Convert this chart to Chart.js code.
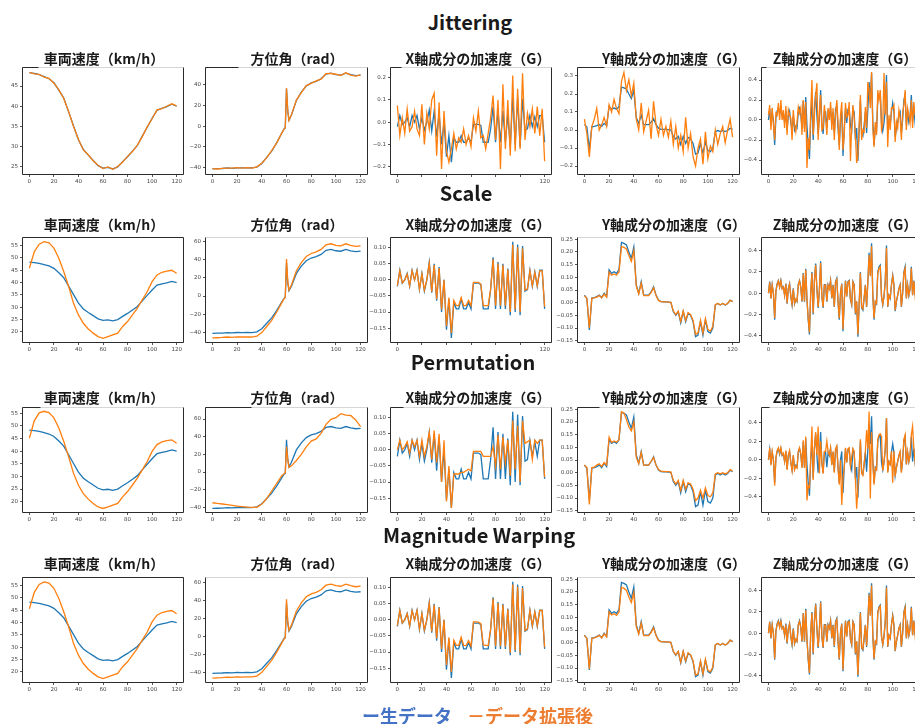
<!DOCTYPE html>
<html><head><meta charset="utf-8">
<script src="https://cdn.jsdelivr.net/npm/chart.js@4.4.0/dist/chart.umd.min.js"></script>
<style>
html,body{margin:0;padding:0;background:#fff;overflow:hidden;width:915px;height:724px;}
#stage{position:relative;width:915px;height:724px;overflow:hidden;background:#fff;}
.rowtitle{position:absolute;font-family:"Noto Sans CJK JP","Noto Sans",sans-serif;font-weight:700;font-size:20px;line-height:1;color:#1a1a1a;transform:translate(-50%,-50%);white-space:nowrap;}
.ptitle{position:absolute;font-family:"Noto Sans CJK JP",sans-serif;font-weight:700;font-size:14px;line-height:1;color:#1a1a1a;transform:translate(-50%,-50%);white-space:nowrap;}
.leg{position:absolute;font-family:"Noto Sans CJK JP",sans-serif;font-weight:700;font-size:18px;line-height:1;white-space:nowrap;transform:translateY(-50%);}
canvas{position:absolute;}
</style></head>
<body><div id="stage"></div>
<script>
// ---------- categories / labels ----------
const AUG_NAMES = ['Jittering','Scale','Permutation','Magnitude Warping'];
const PANEL_TITLES = ['車両速度（km/h）','方位角（rad）','X軸成分の加速度（G）','Y軸成分の加速度（G）','Z軸成分の加速度（G）'];
const LEGEND_LABELS = ['ー生データ','－データ拡張後'];
const X_TICKS = [0,20,40,60,80,100,120];

// ---------- vehicle speed (x = 0..120 step 4) ----------
const speedRaw    = [48.3,48.1,47.8,47.3,46.8,45.8,44.0,42.0,38.6,35.1,31.7,29.3,27.9,26.6,25.3,24.7,24.9,24.5,25.0,26.3,27.5,28.9,30.3,32.6,34.8,37.0,39.0,39.5,39.9,40.5,40.0];
const speedJitter = [48.4,48.0,47.9,47.2,46.9,45.7,44.1,41.9,38.7,35.0,31.8,29.2,28.0,26.5,25.4,24.6,25.0,24.4,25.1,26.2,27.6,28.8,30.4,32.5,34.9,36.9,39.1,39.4,40.0,40.6,40.1];
const speedScale  = [45.8,52.5,55.6,56.6,56.1,54.0,49.9,44.5,38.4,31.6,26.9,23.5,21.2,19.5,18.1,17.4,18.1,18.8,19.5,22.2,24.2,26.9,29.6,33.0,36.3,40.4,43.1,44.2,44.7,45.0,43.8];
const speedPerm   = [45.1,52.0,55.2,55.8,55.3,53.2,49.2,43.9,37.8,31.2,26.5,23.2,21.0,19.3,17.9,17.3,17.9,18.6,19.3,21.9,24.0,26.6,29.3,32.6,35.9,39.9,42.6,43.7,44.2,44.5,43.1];
const speedWarp   = [45.6,52.3,55.5,56.5,56.0,53.9,49.8,44.4,38.3,31.5,26.8,23.4,21.1,19.4,18.0,17.3,18.0,18.7,19.4,22.1,24.1,26.8,29.5,32.9,36.2,40.3,43.0,44.1,44.6,44.9,43.6];

// ---------- azimuth (irregular x) ----------
const azX      = [0,4,8,12,16,20,24,28,32,36,40,44,48,52,56,58,59,60,61,62,64,68,72,76,80,84,88,92,96,100,104,108,112,116,120];
const azRaw    = [-41.2,-41,-40.8,-40.3,-40.6,-40.2,-40.3,-40.2,-40.3,-39.5,-36,-30,-24,-16,-7,-2.5,-1.5,36.5,15,6,11,25,33,39,42,43.5,46,50.5,51.5,50,49.5,51.5,50,49,49.5];
const azJitter = [-41.0,-41.3,-40.6,-40.5,-40.4,-40.0,-40.5,-40.0,-40.4,-39.2,-35.7,-30.3,-23.6,-16.2,-6.8,-2.8,-1.2,36.8,15.3,5.7,11.3,25.4,32.6,39.4,41.6,43.9,45.6,50.9,51.1,50.4,49.2,51.8,49.6,48.6,49.8];
const azScale  = [-46.2,-46,-45.7,-45.2,-45.5,-45,-45.2,-45,-45.2,-44.3,-40.3,-33.6,-26.9,-17.9,-7.8,-2.8,-1.7,41,16.8,6.7,12.3,28,37,43.7,47,48.7,51.5,56.6,57.7,56,55.4,57.7,56,54.9,55.4];
const azPerm   = [-34.8,-35.6,-36.2,-37,-37.8,-38.5,-39.2,-39.8,-40,-40,-36.3,-30,-21.5,-13,-4.5,-2,-1,28.6,14,5.3,7,13,20,28.5,35,37.5,43.8,54,59.6,61.5,66,64.5,64,58.9,51.3];
const azWarp   = [-46.5,-46.2,-45.9,-45.4,-45.6,-45.1,-45.3,-45.1,-45.2,-44.2,-40.1,-33.4,-26.8,-17.8,-7.8,-2.8,-1.7,41.2,16.9,6.7,12.4,28.2,37.2,43.9,47.2,48.9,51.7,56.8,58,56.2,55.6,57.9,56.2,55.1,55.8];

// ---------- X-axis acceleration (x = 0..120 step 2) ----------
const accXRaw = [
 -0.02,0.03,-0.01,0.0,0.02,-0.02,0.03,0.0,0.03,-0.03,
 0.02,-0.035,0.0,0.055,-0.04,0.05,-0.065,0.04,-0.1,0.0,
 -0.155,-0.06,-0.18,-0.07,-0.09,-0.09,-0.06,-0.09,-0.09,-0.07,
 -0.09,-0.01,-0.01,-0.01,-0.015,-0.09,-0.09,-0.09,-0.03,0.07,
 -0.09,0.055,-0.09,0.05,-0.09,0.035,-0.11,0.118,-0.1,0.11,
 -0.11,0.105,-0.035,-0.03,0.03,-0.02,0.025,-0.02,0.03,0.03,
 -0.09];
const accXJitter = [
 0.075,-0.06,0.02,-0.05,0.06,-0.04,-0.02,0.05,-0.03,-0.06,
 0.08,-0.1,0.04,-0.03,0.1,0.13,-0.15,0.09,-0.21,0.05,
 -0.13,-0.18,-0.12,-0.05,-0.12,-0.07,-0.09,-0.03,-0.1,-0.06,
 -0.11,0.02,-0.04,0.05,-0.07,-0.06,-0.12,-0.05,0.02,0.12,
 -0.08,0.1,-0.21,0.17,-0.12,0.1,-0.15,0.21,-0.13,0.15,
 -0.12,0.22,-0.08,0.04,-0.02,0.06,-0.05,0.07,-0.06,0.06,
 -0.175];
const accXScale = [
 -0.018,0.028,-0.009,0.0,0.018,-0.018,0.028,0.0,0.028,-0.028,
 0.018,-0.032,0.0,0.051,-0.037,0.046,-0.06,0.037,-0.092,0.0,
 -0.143,-0.055,-0.165,-0.064,-0.08,-0.08,-0.055,-0.08,-0.08,-0.064,
 -0.08,-0.008,-0.008,-0.008,-0.013,-0.08,-0.08,-0.08,-0.028,0.064,
 -0.08,0.051,-0.08,0.046,-0.08,0.032,-0.1,0.109,-0.092,0.101,
 -0.1,0.097,-0.032,-0.028,0.028,-0.018,0.023,-0.018,0.028,0.028,
 -0.083];
const accXPerm = [
 0.0,0.03,0.0,0.01,0.025,-0.01,0.03,0.01,0.03,-0.02,
 0.03,-0.02,0.01,0.055,-0.03,0.06,-0.04,0.05,-0.1,0.03,
 -0.16,-0.05,-0.18,-0.075,-0.075,-0.075,-0.07,-0.07,-0.065,-0.06,
 -0.065,-0.005,-0.005,-0.005,-0.005,-0.02,-0.02,-0.02,-0.02,0.01,
 -0.05,0.045,-0.06,0.04,-0.04,0.03,-0.08,0.09,-0.06,0.075,
 -0.1,0.09,0.02,0.025,0.03,-0.03,0.03,0.02,0.03,0.03,
 -0.085];
const accXWarp = [
 -0.017,0.029,-0.009,0.0,0.019,-0.018,0.028,0.0,0.029,-0.027,
 0.019,-0.031,0.0,0.052,-0.036,0.047,-0.058,0.038,-0.09,0.0,
 -0.14,-0.054,-0.162,-0.063,-0.079,-0.079,-0.054,-0.079,-0.08,-0.064,
 -0.081,-0.006,-0.006,-0.007,-0.012,-0.078,-0.079,-0.08,-0.028,0.066,
 -0.082,0.052,-0.082,0.047,-0.083,0.033,-0.102,0.11,-0.094,0.103,
 -0.103,0.099,-0.033,-0.028,0.029,-0.018,0.024,-0.018,0.029,0.029,
 -0.085];

// ---------- Y-axis acceleration (x = 0..120 step 2) ----------
const accYRaw = [
 0.03,0.017,-0.108,0.018,0.02,0.024,0.03,0.02,0.037,0.024,
 0.13,0.116,0.122,0.116,0.13,0.238,0.234,0.228,0.2,0.175,
 0.22,0.07,0.037,0.083,0.03,0.03,0.03,0.043,0.063,0.03,
 0.01,0.004,0.003,0.003,0.002,0.001,-0.035,-0.05,-0.035,-0.08,
 -0.035,-0.075,-0.042,-0.05,-0.075,-0.134,-0.128,-0.075,-0.128,-0.068,
 -0.114,-0.12,-0.1,-0.009,-0.003,-0.009,-0.003,-0.009,-0.003,0.01,
 0.004];
const accYJitter = [
 0.06,-0.02,-0.15,0.02,0.06,0.12,0.0,0.03,0.07,0.02,
 0.14,0.1,0.17,0.12,0.09,0.27,0.32,0.22,0.28,0.19,
 0.26,0.06,0.0,0.15,-0.01,0.05,0.11,-0.05,0.16,0.03,
 -0.03,0.06,-0.03,0.02,-0.04,0.05,-0.08,0.02,-0.1,-0.03,
 -0.12,0.07,-0.1,-0.02,-0.15,-0.2,-0.1,-0.05,-0.19,-0.01,
 -0.16,-0.09,-0.12,0.0,-0.08,-0.02,0.02,-0.07,0.0,0.06,
 -0.04];
const accYScale = [
 0.028,0.016,-0.1,0.017,0.019,0.022,0.028,0.019,0.034,0.022,
 0.121,0.108,0.113,0.108,0.121,0.221,0.218,0.212,0.186,0.163,
 0.205,0.065,0.034,0.077,0.028,0.028,0.028,0.04,0.059,0.028,
 0.009,0.004,0.003,0.003,0.002,0.001,-0.033,-0.047,-0.033,-0.074,
 -0.033,-0.07,-0.039,-0.047,-0.07,-0.125,-0.119,-0.07,-0.119,-0.063,
 -0.106,-0.112,-0.093,-0.008,-0.003,-0.008,-0.003,-0.008,-0.003,0.009,
 0.004];
const accYPerm = [
 0.03,0.02,-0.125,0.02,0.022,0.03,0.035,0.025,0.04,0.03,
 0.14,0.12,0.125,0.12,0.13,0.24,0.235,0.21,0.18,0.165,
 0.2,0.06,0.035,0.08,0.03,0.03,0.03,0.045,0.06,0.03,
 0.012,0.006,0.005,0.004,0.004,0.002,-0.03,-0.045,-0.03,-0.07,
 -0.03,-0.065,-0.04,-0.045,-0.065,-0.11,-0.1,-0.07,-0.1,-0.06,
 -0.09,-0.095,-0.08,-0.005,0.0,-0.005,0.0,-0.005,0.0,0.012,
 0.006];
const accYWarp = [
 0.029,0.016,-0.104,0.017,0.019,0.023,0.029,0.019,0.035,0.023,
 0.122,0.109,0.114,0.108,0.12,0.219,0.214,0.207,0.18,0.158,
 0.198,0.063,0.034,0.077,0.028,0.028,0.028,0.04,0.059,0.028,
 0.009,0.004,0.003,0.003,0.002,0.001,-0.034,-0.048,-0.034,-0.077,
 -0.034,-0.072,-0.04,-0.048,-0.072,-0.128,-0.123,-0.072,-0.123,-0.065,
 -0.109,-0.115,-0.096,-0.009,-0.003,-0.009,-0.003,-0.009,-0.003,0.01,
 0.004];

// ---------- Z-axis acceleration (x = 0..120 step 1) ----------
const accZRaw = [
 0.0,0.11,-0.05,0.08,0.0,-0.25,0.02,0.09,0.12,0.06,
 0.12,0.045,0.06,-0.02,0.09,-0.1,0.045,0.09,-0.03,-0.11,
 0.045,-0.1,-0.06,-0.08,0.08,0.12,0.06,-0.08,0.19,-0.08,
 0.23,-0.06,-0.25,-0.39,0.0,0.2,-0.2,0.12,0.28,0.045,
 -0.14,0.03,0.3,-0.03,-0.14,0.08,0.08,-0.08,0.08,0.045,
 0.12,-0.05,0.08,-0.13,0.11,0.14,-0.08,-0.25,0.0,0.09,
 -0.36,-0.08,0.12,-0.03,0.11,0.12,-0.06,-0.11,0.11,0.08,
 -0.2,-0.08,-0.41,-0.11,0.2,-0.14,-0.16,-0.05,0.08,-0.13,
 0.11,0.38,0.17,0.47,-0.02,-0.25,-0.08,-0.1,0.2,0.25,
 0.265,-0.03,-0.11,-0.03,0.11,0.45,-0.13,-0.02,-0.05,0.08,
 0.17,0.08,-0.17,-0.08,-0.02,0.045,0.08,-0.13,0.0,0.2,
 0.25,-0.05,0.08,-0.02,0.045,0.25,-0.02,0.12,-0.02,0.08,
 0.02];
const accZJitter = [
 0.05,0.15,-0.1,0.12,-0.05,-0.2,0.07,0.05,0.17,0.0,
 0.2,0.0,0.1,-0.08,0.14,-0.15,0.1,0.05,0.02,-0.2,
 0.1,-0.05,-0.12,-0.02,0.13,0.07,0.12,-0.15,0.2,-0.12,
 0.18,-0.48,-0.18,-0.3,0.08,0.4,-0.15,0.05,0.25,0.37,
 -0.2,0.08,0.25,-0.1,-0.08,0.15,0.02,-0.15,0.12,0.0,
 0.18,-0.1,0.12,-0.2,0.05,0.2,-0.02,-0.3,0.05,0.18,
 -0.3,-0.15,0.17,0.03,0.05,0.18,-0.41,-0.05,0.15,0.02,
 -0.15,-0.43,-0.35,-0.05,0.25,-0.2,-0.1,-0.12,0.13,-0.08,
 0.38,0.3,0.12,0.48,-0.08,-0.27,-0.02,-0.15,0.3,0.2,
 0.3,-0.1,-0.05,0.47,0.05,0.38,-0.27,0.05,-0.1,0.12,
 0.12,0.15,-0.22,-0.02,-0.08,0.1,0.02,-0.2,0.07,0.15,
 0.3,-0.1,0.12,0.05,-0.03,0.2,-0.08,0.18,0.05,0.03,
 0.07];
const accZScale = [
 0.0,0.1,-0.05,0.075,0.0,-0.235,0.02,0.085,0.115,0.055,
 0.115,0.04,0.055,-0.02,0.085,-0.095,0.04,0.085,-0.03,-0.105,
 0.04,-0.095,-0.055,-0.075,0.075,0.115,0.055,-0.075,0.18,-0.075,
 0.22,-0.055,-0.235,-0.37,0.0,0.19,-0.19,0.115,0.265,0.04,
 -0.13,0.03,0.285,-0.03,-0.13,0.075,0.075,-0.075,0.075,0.04,
 0.115,-0.045,0.075,-0.125,0.105,0.13,-0.075,-0.235,0.0,0.085,
 -0.34,-0.075,0.115,-0.03,0.105,0.115,-0.055,-0.105,0.105,0.075,
 -0.19,-0.075,-0.39,-0.105,0.19,-0.13,-0.15,-0.045,0.075,-0.125,
 0.105,0.36,0.16,0.445,-0.02,-0.235,-0.075,-0.095,0.19,0.235,
 0.25,-0.03,-0.105,-0.03,0.105,0.425,-0.125,-0.02,-0.045,0.075,
 0.16,0.075,-0.16,-0.075,-0.02,0.04,0.075,-0.125,0.0,0.19,
 0.235,-0.045,0.075,-0.02,0.04,0.235,-0.02,0.115,-0.02,0.075,
 0.02];
const accZPerm = [
 0.0,0.13,-0.06,0.09,0.0,-0.28,0.02,0.1,0.13,0.07,
 0.13,0.05,0.07,-0.02,0.1,-0.11,0.05,0.1,-0.03,-0.12,
 0.05,-0.11,-0.07,-0.09,0.09,0.13,0.07,-0.09,0.21,-0.09,
 0.25,-0.44,-0.28,-0.3,0.0,0.36,-0.22,0.13,0.3,0.05,
 0.36,-0.15,0.2,-0.03,-0.15,0.09,0.09,0.2,0.09,0.05,
 0.13,-0.06,0.09,-0.14,0.12,0.15,-0.09,-0.27,0.0,-0.49,
 -0.2,-0.09,0.13,-0.03,0.12,0.13,-0.07,0.03,0.12,0.09,
 -0.22,-0.53,-0.3,-0.12,0.22,-0.15,-0.17,-0.05,0.09,0.32,
 0.12,0.52,-0.42,0.3,-0.02,-0.27,-0.09,-0.11,0.22,0.27,
 0.28,0.25,-0.12,-0.03,0.12,0.45,-0.14,-0.02,-0.05,0.09,
 -0.25,0.09,-0.18,-0.09,-0.02,0.05,0.09,-0.14,0.0,0.22,
 0.27,-0.05,0.09,-0.02,0.05,0.27,0.36,0.13,-0.02,0.09,
 0.02];
const accZWarp = [
 0.0,0.105,-0.045,0.075,0.0,-0.24,0.02,0.085,0.11,0.055,
 0.11,0.04,0.055,-0.02,0.08,-0.09,0.04,0.085,-0.03,-0.1,
 0.04,-0.095,-0.055,-0.075,0.075,0.11,0.055,-0.075,0.185,-0.075,
 0.215,-0.055,-0.24,-0.375,0.0,0.19,-0.19,0.11,0.27,0.04,
 -0.13,0.03,0.29,-0.03,-0.135,0.075,0.075,-0.075,0.075,0.045,
 0.115,-0.045,0.075,-0.12,0.1,0.13,-0.075,-0.24,0.0,0.085,
 -0.345,-0.075,0.115,-0.03,0.105,0.11,-0.055,-0.105,0.105,0.075,
 -0.19,-0.075,-0.395,-0.105,0.19,-0.135,-0.15,-0.045,0.075,-0.12,
 0.105,0.365,0.165,0.45,-0.02,-0.24,-0.075,-0.095,0.19,0.24,
 0.255,-0.03,-0.105,-0.03,0.105,0.43,-0.125,-0.02,-0.045,0.075,
 0.16,0.075,-0.165,-0.075,-0.02,0.045,0.075,-0.125,0.0,0.19,
 0.24,-0.045,0.075,-0.02,0.045,0.24,-0.02,0.115,-0.02,0.075,
 0.02];

// ---------- y-axis tick values per row / column ----------
const Y_TICKS_SPEED_R1 = [25,30,35,40,45];
const Y_TICKS_SPEED    = [20,25,30,35,40,45,50,55];
const Y_TICKS_AZ_R1    = [-40,-20,0,20,40];
const Y_TICKS_AZ       = [-40,-20,0,20,40,60];
const Y_TICKS_X_R1     = [-0.2,-0.1,0,0.1,0.2];
const Y_TICKS_X        = [-0.15,-0.1,-0.05,0,0.05,0.1];
const Y_TICKS_Y_R1     = [-0.2,-0.1,0,0.1,0.2,0.3];
const Y_TICKS_Y        = [-0.15,-0.1,-0.05,0,0.05,0.1,0.15,0.2,0.25];
const Y_TICKS_Z        = [-0.4,-0.2,0,0.2,0.4];

// ---------- layout (styling only) ----------
const COLS = [{l:22,r:184,tc:104},{l:205,r:368,tc:297},{l:390,r:552,tc:478},{l:577,r:740,tc:674},{l:761,r:925,tc:845}];
const ROWS = [{t:67,b:175,ty:58,ny:22,nx:470},{t:237,b:343,ty:224,ny:193,nx:466},{t:407,b:513,ty:397,ny:362,nx:473},{t:577,b:683,ty:563,ny:535,nx:479}];
const YAX = [
 [{min:23.0,max:49.7,t:Y_TICKS_SPEED_R1,d:0},{min:-47.1,max:57.4,t:Y_TICKS_AZ_R1,d:0},{min:-0.237,max:0.248,t:Y_TICKS_X_R1,d:1},{min:-0.25,max:0.35,t:Y_TICKS_Y_R1,d:1},{min:-0.55,max:0.53,t:Y_TICKS_Z,d:1}],
 [{min:15.5,max:58.5,t:Y_TICKS_SPEED,d:0},{min:-51.8,max:65.2,t:Y_TICKS_AZ,d:0},{min:-0.196,max:0.133,t:Y_TICKS_X,d:2},{min:-0.159,max:0.259,t:Y_TICKS_Y,d:2},{min:-0.47,max:0.53,t:Y_TICKS_Z,d:1}],
 [{min:15.5,max:57.5,t:Y_TICKS_SPEED,d:0},{min:-46.4,max:73.6,t:Y_TICKS_AZ,d:0},{min:-0.196,max:0.133,t:Y_TICKS_X,d:2},{min:-0.159,max:0.259,t:Y_TICKS_Y,d:2},{min:-0.576,max:0.57,t:Y_TICKS_Z,d:1}],
 [{min:15.5,max:58.5,t:Y_TICKS_SPEED,d:0},{min:-51.9,max:65.9,t:Y_TICKS_AZ,d:0},{min:-0.196,max:0.133,t:Y_TICKS_X,d:2},{min:-0.159,max:0.259,t:Y_TICKS_Y,d:2},{min:-0.47,max:0.53,t:Y_TICKS_Z,d:1}]
];
const FRAME = [
 [{seg:16},{seg:33},{seg:11},{seg:27},{seg:5}],
 [{dark:true},{seg:0},{dark:true},{seg:0},{dark:true}],
 [{seg:18},{seg:46},{seg:13},{seg:22},{seg:8}],
 [{dark:true},{seg:0},{dark:true},{seg:0},{dark:true}]
];
const X_ENDS_ONLY = [[false,false,true,false,false],[false,false,true,false,false],[false,false,false,false,false],[false,false,false,false,false]];

const RAW = [speedRaw, azRaw, accXRaw, accYRaw, accZRaw];
const XS  = [null, azX, null, null, null];
const AUG = [
 [speedJitter, azJitter, accXJitter, accYJitter, accZJitter],
 [speedScale,  azScale,  accXScale,  accYScale,  accZScale],
 [speedPerm,   azPerm,   accXPerm,   accYPerm,   accZPerm],
 [speedWarp,   azWarp,   accXWarp,   accYWarp,   accZWarp]
];

const BLUE = '#1f77b4', ORANGE = '#ff7f0e';
const stage = document.getElementById('stage');

function pts(xs, ys){ return ys.map((y,i)=>({x: xs ? xs[i] : i*120/(ys.length-1), y:y})); }
function fmt(v,d){ let s = Math.abs(v) < 1e-9 ? (0).toFixed(d) : v.toFixed(d); return s.replace('-', '\u2212'); }

const framePlugin = {
  id:'frame',
  afterDraw(chart, args, o){
    const ca = chart.chartArea, ctx = chart.ctx;
    const L = Math.round(ca.left)+0.5, R = Math.round(ca.right)-0.5, T = Math.round(ca.top)+0.5, B = Math.round(ca.bottom)-0.5;
    ctx.save(); ctx.lineWidth = 1;
    const ln=(a,b,c,d,col)=>{ctx.strokeStyle=col;ctx.beginPath();ctx.moveTo(a,b);ctx.lineTo(c,d);ctx.stroke();};
    ln(L,T,R,T, o.dark ? '#2b2b2b' : '#d6d6d6');
    if(!o.dark && o.seg) ln(L,T,L+o.seg,T,'#2b2b2b');
    ln(L,T,L,B,'#2b2b2b'); ln(L,B,R,B,'#2b2b2b'); ln(R,T,R,B,'#2b2b2b');
    ctx.restore();
  }
};

function config(r,c){
  const ya = YAX[r][c];
  const endsOnly = X_ENDS_ONLY[r][c];
  const tickFont = {family:'DejaVu Sans', size:5.5};
  return {
    type:'line',
    data:{datasets:[
      {data:pts(XS[c], RAW[c]), borderColor:BLUE, borderWidth:1.3, pointRadius:0, tension:0, order:2, fill:false},
      {data:pts(XS[c], AUG[r][c]), borderColor:ORANGE, borderWidth:1.3, pointRadius:0, tension:0, order:1, fill:false}
    ]},
    options:{
      responsive:false, maintainAspectRatio:false, animation:false, devicePixelRatio:1,
      layout:{padding:{top:6,right:6,left:0,bottom:0}},
      plugins:{legend:{display:false}, tooltip:{enabled:false}, title:{display:false}, frame:FRAME[r][c]},
      scales:{
        x:{type:'linear', min:-6, max:126,
           afterBuildTicks:s=>{ s.ticks = X_TICKS.map(v=>({value:v})); },
           afterFit:s=>{ s.height = 12; },
           ticks:{autoSkip:false, maxRotation:0, padding:1, color:'#444', font:tickFont,
                  callback:v=> (endsOnly && v!==0 && v!==120) ? '' : String(v)},
           grid:{drawOnChartArea:false, drawTicks:true, tickLength:2, color:'#555'},
           border:{display:false}},
        y:{type:'linear', min:ya.min, max:ya.max,
           afterBuildTicks:s=>{ s.ticks = ya.t.map(v=>({value:v})); },
           afterFit:s=>{ s.width = 26; },
           ticks:{autoSkip:false, padding:2, color:'#444', font:tickFont, callback:v=>fmt(v, ya.d)},
           grid:{drawOnChartArea:false, drawTicks:true, tickLength:2, color:'#555'},
           border:{display:false}}
      }
    },
    plugins:[framePlugin]
  };
}

function makePanel(r,c){
  const col = COLS[c], row = ROWS[r];
  const pw = col.r - col.l, ph = row.b - row.t;
  // measuring pass
  const m = document.createElement('canvas');
  const W0 = pw + 40, H0 = ph + 30;
  m.width = W0; m.height = H0; m.style.width = W0+'px'; m.style.height = H0+'px';
  stage.appendChild(m);
  let ch = new Chart(m, config(r,c));
  const ca = ch.chartArea;
  const W = Math.round(W0 - (ca.right - ca.left) + pw);
  const H = Math.round(H0 - (ca.bottom - ca.top) + ph);
  ch.destroy(); stage.removeChild(m);
  const cv = document.createElement('canvas');
  cv.width = W; cv.height = H; cv.style.width = W+'px'; cv.style.height = H+'px';
  stage.appendChild(cv);
  ch = new Chart(cv, config(r,c));
  const a = ch.chartArea;
  cv.style.left = (col.l - a.left) + 'px';
  cv.style.top = (row.t - a.top) + 'px';
  const t = document.createElement('div');
  t.className = 'ptitle'; t.textContent = PANEL_TITLES[c];
  t.style.left = col.tc + 'px'; t.style.top = row.ty + 'px';
  stage.appendChild(t);
}

for (let r=0;r<4;r++){
  const d = document.createElement('div');
  d.className = 'rowtitle'; d.textContent = AUG_NAMES[r];
  d.style.left = ROWS[r].nx + 'px'; d.style.top = ROWS[r].ny + 'px';
  stage.appendChild(d);
  for (let c=0;c<5;c++) makePanel(r,c);
}

const l1 = document.createElement('div');
l1.className='leg'; l1.textContent = LEGEND_LABELS[0]; l1.style.color='#4472C4'; l1.style.left='362px'; l1.style.top='715px';
const l2 = document.createElement('div');
l2.className='leg'; l2.textContent = LEGEND_LABELS[1]; l2.style.color='#ED7D31'; l2.style.left='467px'; l2.style.top='715px';
stage.appendChild(l1); stage.appendChild(l2);
</script>
</body></html>
